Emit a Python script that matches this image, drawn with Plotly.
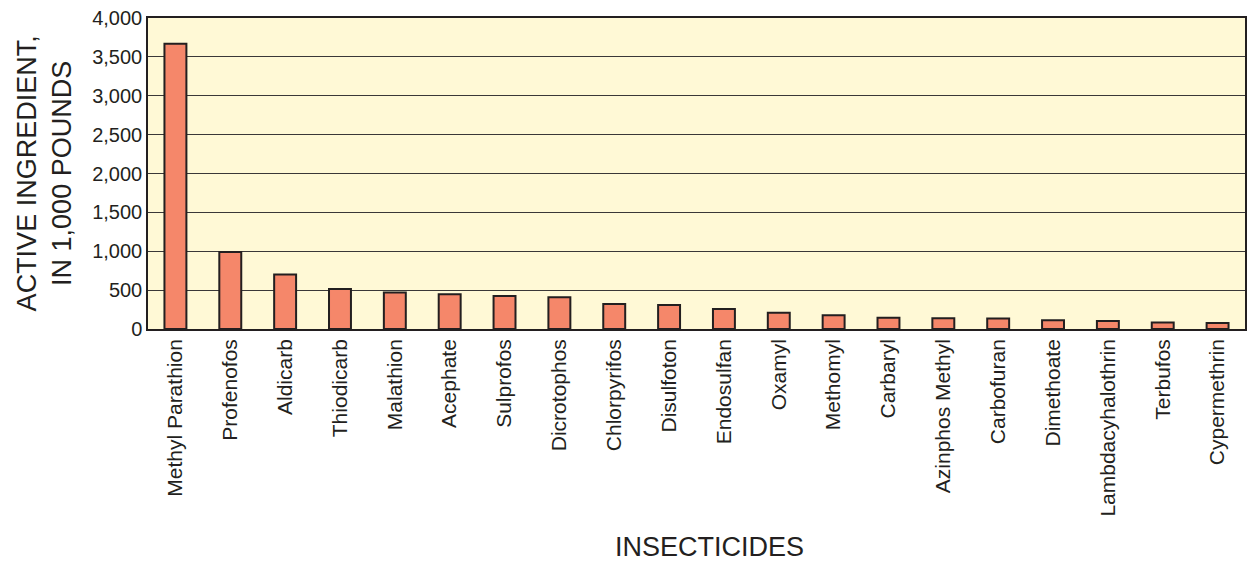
import plotly.graph_objects as go

categories = ["Methyl Parathion", "Profenofos", "Aldicarb", "Thiodicarb", "Malathion",
              "Acephate", "Sulprofos", "Dicrotophos", "Chlorpyrifos", "Disulfoton",
              "Endosulfan", "Oxamyl", "Methomyl", "Carbaryl", "Azinphos Methyl",
              "Carbofuran", "Dimethoate", "Lambdacyhalothrin", "Terbufos", "Cypermethrin"]
values = [3670, 990, 700, 515, 468, 446, 426, 408, 322, 310,
          258, 210, 176, 146, 137, 135, 111, 103, 85, 77]
y_ticks = [0, 500, 1000, 1500, 2000, 2500, 3000, 3500, 4000]
y_ticktext = ["0", "500", "1,000", "1,500", "2,000", "2,500", "3,000", "3,500", "4,000"]

FONT = "Liberation Sans, Arial, Helvetica, sans-serif"
INK = "#231F20"

fig = go.Figure(go.Bar(
    x=categories, y=values,
    marker=dict(color="#F5876A", line=dict(color=INK, width=2)),
))

fig.update_layout(
    width=1254, height=562,
    margin=dict(l=148, r=9, t=18, b=233),
    paper_bgcolor="white", plot_bgcolor="#FFF9D6",
    bargap=0.6, showlegend=False,
    font=dict(family=FONT, color=INK),
)
fig.update_xaxes(
    tickangle=-90, tickfont=dict(size=21, family=FONT, color=INK),
    showline=True, linecolor=INK, linewidth=1.5, mirror=True,
    ticks="", showgrid=False, automargin=False,
)
fig.update_yaxes(
    range=[0, 4000], tickvals=y_ticks, ticktext=y_ticktext,
    tickfont=dict(size=20, family=FONT, color=INK),
    showline=True, linecolor=INK, linewidth=1.5, mirror=True,
    showgrid=True, gridcolor="#3A3838", gridwidth=1, zeroline=False,
    ticks="", ticklen=0, automargin=False,
)
fig.add_annotation(
    text="INSECTICIDES", xref="paper", yref="paper", x=0.512, y=-0.70,
    xanchor="center", yanchor="middle", showarrow=False,
    font=dict(size=27, family=FONT, color=INK),
)
fig.add_annotation(
    text="ACTIVE INGREDIENT,<br>IN 1,000 POUNDS", textangle=-90,
    xref="paper", yref="paper", x=-0.094, y=0.5, xanchor="center", yanchor="middle",
    showarrow=False, font=dict(size=27, family=FONT, color=INK),
)

post = ("document.body.style.margin='0';document.body.style.overflow='hidden';"
        "var gd=document.getElementById('{plot_id}');"
        "Plotly.relayout(gd,{width:1254,height:562});")
fig.write_html("out.html", post_script=post, config={"displayModeBar": False})
